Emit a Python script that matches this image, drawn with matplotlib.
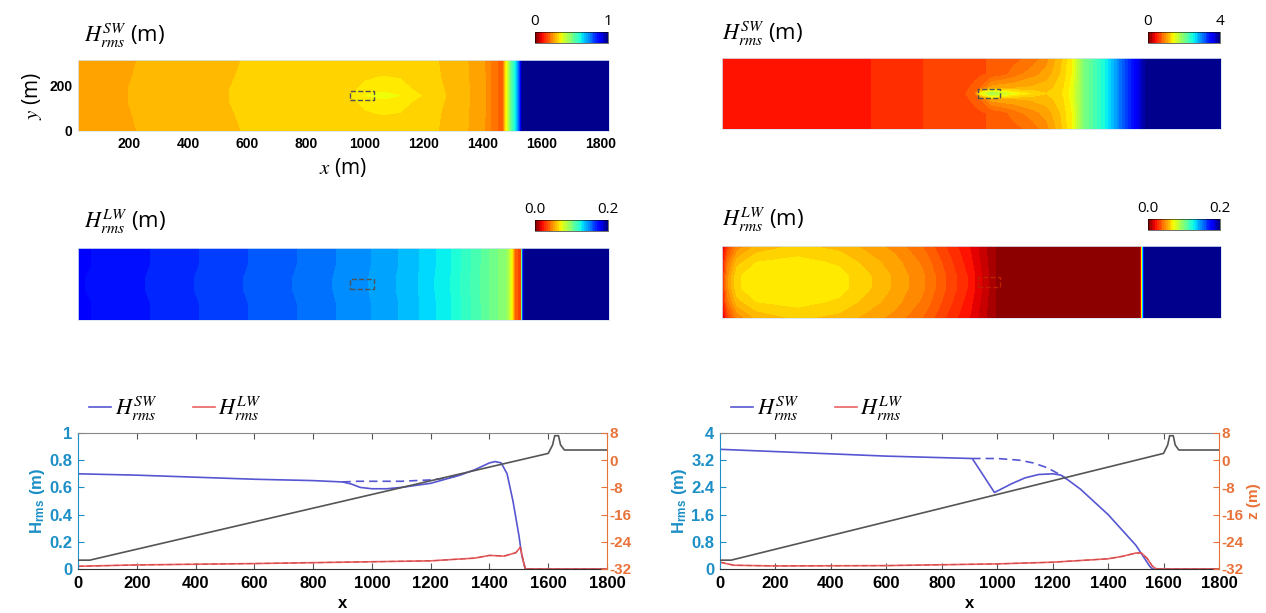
import numpy as np
import matplotlib
matplotlib.use("Agg")
import matplotlib.pyplot as plt
from matplotlib.patches import Rectangle

plt.rcParams['mathtext.fontset'] = 'custom'
plt.rcParams['mathtext.it'] = 'STIXGeneral:italic'
plt.rcParams['mathtext.rm'] = 'STIXGeneral'
plt.rcParams['mathtext.bf'] = 'Liberation Sans:bold'
plt.rcParams['axes.unicode_minus'] = False

# ---- map fields (rows: y = 0, 70, 130, 155, 180, 240, 310) ----
map_y = [0, 70, 130, 155, 180, 240, 310]

# top-left: short-wave Hrms, colour scale 0..1
tl_x = [25, 150, 300, 480, 680, 900, 950, 1000, 1060, 1120, 1200, 1300, 1400, 1440, 1470, 1480, 1494, 1510, 1524, 1535, 1830]
tl_edge = [0.262, 0.27, 0.28, 0.295, 0.305, 0.315, 0.318, 0.32, 0.322, 0.32, 0.31, 0.29, 0.26, 0.21, 0.18, 0.34, 0.50, 0.62, 0.78, 1.0, 1.0]
tl_off = [0.263, 0.271, 0.281, 0.296, 0.306, 0.316, 0.319, 0.322, 0.325, 0.323, 0.312, 0.291, 0.261, 0.21, 0.18, 0.34, 0.50, 0.62, 0.78, 1.0, 1.0]
tl_near = [0.264, 0.272, 0.282, 0.297, 0.307, 0.317, 0.321, 0.33, 0.337, 0.333, 0.318, 0.292, 0.261, 0.21, 0.18, 0.34, 0.50, 0.62, 0.78, 1.0, 1.0]
tl_cent = [0.264, 0.272, 0.282, 0.297, 0.307, 0.317, 0.325, 0.35, 0.37, 0.35, 0.322, 0.293, 0.261, 0.21, 0.18, 0.34, 0.50, 0.62, 0.78, 1.0, 1.0]

# top-right: short-wave Hrms, colour scale 0..4
tr_x = [25, 450, 680, 900, 940, 960, 1000, 1040, 1080, 1150, 1200, 1250, 1292, 1336, 1408, 1450, 1509, 1566, 1830]
tr_edge = [0.40, 0.44, 0.56, 0.68, 0.68, 0.68, 0.72, 0.72, 0.76, 0.84, 0.96, 1.16, 1.40, 2.0, 2.48, 2.88, 3.44, 4.0, 4.0]
tr_off = [0.40, 0.44, 0.56, 0.68, 0.68, 0.68, 0.72, 0.76, 0.84, 0.96, 1.04, 1.20, 1.40, 2.0, 2.48, 2.88, 3.44, 4.0, 4.0]
tr_near = [0.40, 0.44, 0.56, 0.68, 0.72, 0.80, 1.04, 1.08, 1.08, 1.12, 1.16, 1.24, 1.44, 2.0, 2.48, 2.88, 3.44, 4.0, 4.0]
tr_cent = [0.40, 0.44, 0.56, 0.68, 0.80, 1.40, 1.80, 1.60, 1.44, 1.28, 1.20, 1.28, 1.44, 2.0, 2.48, 2.88, 3.44, 4.0, 4.0]

# middle-left: long-wave Hrms, colour scale 0..0.2
ml_x = [25, 200, 400, 600, 800, 1000, 1150, 1285, 1380, 1450, 1485, 1500, 1512, 1530, 1540, 1830]
ml_edge = [0.176, 0.172, 0.166, 0.160, 0.154, 0.146, 0.138, 0.126, 0.112, 0.100, 0.094, 0.072, 0.040, 0.030, 0.2, 0.2]
ml_cent = [0.1755, 0.1715, 0.1655, 0.1595, 0.1535, 0.1455, 0.1375, 0.1255, 0.1115, 0.100, 0.094, 0.072, 0.040, 0.030, 0.2, 0.2]

# middle-right: long-wave Hrms, colour scale 0..0.2
mr_x = [25, 45, 80, 150, 300, 450, 550, 650, 750, 850, 920, 980, 1020, 1540, 1546, 1552, 1830]
mr_edge = [0.012, 0.030, 0.046, 0.056, 0.061, 0.058, 0.053, 0.048, 0.040, 0.028, 0.020, 0.010, 0.004, 0.004, 0.130, 0.2, 0.2]
mr_off = [0.018, 0.042, 0.058, 0.065, 0.067, 0.064, 0.058, 0.052, 0.044, 0.031, 0.022, 0.011, 0.004, 0.004, 0.130, 0.2, 0.2]
mr_cent = [0.022, 0.048, 0.064, 0.069, 0.070, 0.067, 0.061, 0.054, 0.046, 0.033, 0.024, 0.012, 0.004, 0.004, 0.130, 0.2, 0.2]

# ---- cross-shore profiles ----
bed_x = [0, 40, 1600, 1615, 1622, 1635, 1642, 1655, 1800]
bed_z = [-29.4, -29.4, 2.0, 4.5, 7.2, 7.2, 4.5, 3.0, 3.0]

l_sw_x = [0, 200, 400, 600, 800, 900, 930, 960, 1000, 1050, 1100, 1200, 1300, 1350, 1400, 1420, 1440, 1460, 1480, 1500, 1510, 1522, 1800]
l_sw = [0.70, 0.69, 0.675, 0.66, 0.65, 0.64, 0.625, 0.60, 0.59, 0.59, 0.60, 0.63, 0.69, 0.73, 0.78, 0.79, 0.78, 0.70, 0.50, 0.25, 0.10, 0.0, 0.0]
l_sw_d_x = [900, 950, 1100, 1200, 1260, 1300]
l_sw_d = [0.64, 0.645, 0.645, 0.655, 0.67, 0.69]
l_lw_x = [0, 200, 600, 900, 1200, 1350, 1400, 1450, 1490, 1505, 1515, 1522, 1800]
l_lw = [0.02, 0.03, 0.04, 0.05, 0.06, 0.08, 0.10, 0.095, 0.12, 0.16, 0.06, 0.0, 0.0]

r_sw_x = [0, 300, 600, 910, 950, 990, 1050, 1100, 1150, 1200, 1230, 1250, 1300, 1400, 1500, 1550, 1560, 1800]
r_sw = [3.52, 3.42, 3.32, 3.25, 2.75, 2.25, 2.50, 2.68, 2.78, 2.80, 2.76, 2.65, 2.35, 1.60, 0.70, 0.08, 0.0, 0.0]
r_sw_d_x = [910, 1000, 1080, 1130, 1180, 1230, 1250]
r_sw_d = [3.25, 3.25, 3.20, 3.12, 2.98, 2.76, 2.65]
r_lw_x = [0, 50, 200, 600, 1000, 1200, 1400, 1450, 1500, 1520, 1540, 1560, 1575, 1800]
r_lw = [0.20, 0.11, 0.09, 0.10, 0.15, 0.20, 0.30, 0.37, 0.47, 0.47, 0.32, 0.08, 0.0, 0.0]

struct_box = (950, 135, 80, 40)

W, H = 1266, 613
fig = plt.figure(figsize=(W / 100, H / 100), dpi=100)


def px(l, t, r, b):
    return [l / W, 1 - b / H, (r - l) / W, (b - t) / H]


def draw_map(rect, xs, rows, vmax, box_col, cb_rect, cb_labels, title_pos):
    ax = fig.add_axes(px(*rect))
    Z = np.array(rows)
    cf = ax.contourf(xs, map_y, Z, levels=np.linspace(0, vmax, 41), cmap='jet_r')
    bx, by, bw, bh = struct_box
    ax.add_patch(Rectangle((bx, by), bw, bh, fill=False, ec=box_col, ls='--', lw=1.0))
    ax.set_xlim(25, 1830)
    ax.set_ylim(0, 310)
    for s in ax.spines.values():
        s.set_color('#d8e4f0')
        s.set_linewidth(0.6)
    ax.tick_params(length=0)
    ax.set_xticks([])
    ax.set_yticks([])
    cax = fig.add_axes(px(*cb_rect))
    cb = fig.colorbar(cf, cax=cax, orientation='horizontal', ticks=[0, vmax])
    cb.set_ticklabels(cb_labels)
    cb.outline.set_linewidth(0.4)
    cax.xaxis.set_ticks_position('top')
    cax.tick_params(length=0, labelsize=11, pad=2)
    for t in cax.get_xticklabels():
        t.set_family('Open Sans')
    fig.text(title_pos[0] / W, 1 - title_pos[1] / H, title_pos[2], fontsize=16,
             family='Open Sans', va='center', ha='left')
    return ax


ax_tl = draw_map((78, 60, 609, 131), tl_x,
                 [tl_edge, tl_off, tl_near, tl_cent, tl_near, tl_off, tl_edge], 1.0,
                 '#505050', (535, 32, 608, 43), ['0', '1'],
                 (84, 36, r'$H_{rms}^{SW}$ (m)'))
ax_tl.set_xticks([200, 400, 600, 800, 1000, 1200, 1400, 1600, 1800])
ax_tl.set_yticks([0, 200])
ax_tl.tick_params(labelsize=10, pad=4)
for t in ax_tl.get_xticklabels() + ax_tl.get_yticklabels():
    t.set_fontweight('bold')
    t.set_family('Liberation Sans')
ax_tl.set_xlabel(r'$x$ (m)', fontsize=15, family='Open Sans', labelpad=4)
ax_tl.set_ylabel(r'$y$ (m)', fontsize=15, family='Open Sans', labelpad=4)

draw_map((722, 58, 1221, 129), tr_x,
         [tr_edge, tr_off, tr_near, tr_cent, tr_near, tr_off, tr_edge], 4.0,
         '#505050', (1148, 32, 1220, 43), ['0', '4'],
         (722, 34, r'$H_{rms}^{SW}$ (m)'))

draw_map((78, 248, 609, 320), ml_x,
         [ml_edge, ml_edge, ml_cent, ml_cent, ml_cent, ml_edge, ml_edge], 0.2,
         '#505050', (535, 220, 608, 231), ['0.0', '0.2'],
         (84, 222, r'$H_{rms}^{LW}$ (m)'))

draw_map((722, 246, 1221, 318), mr_x,
         [mr_edge, mr_off, mr_cent, mr_cent, mr_cent, mr_off, mr_edge], 0.2,
         '#c02000', (1148, 219, 1220, 230), ['0.0', '0.2'],
         (722, 220, r'$H_{rms}^{LW}$ (m)'))

# ---- line plots ----
C_SW = '#5656d2'
C_LW = '#ea6262'
C_BED = '#555555'
C_LEFT = '#1c8fc6'
C_RIGHT = '#e8733a'


def draw_profile(rect, sw_x, sw, swd_x, swd, lw_x, lw, hmax, hticks, hlabels, zlabel):
    ax = fig.add_axes(px(*rect))
    l1, = ax.plot(sw_x, sw, color=C_SW, lw=1.2)
    ax.plot(swd_x, swd, color=C_SW, lw=1.2, ls=(0, (5, 3)))
    l2, = ax.plot(lw_x, lw, color=C_LW, lw=1.2)
    ax.plot(lw_x, lw, color='#d04848', lw=0.8, ls=(0, (5, 3)))
    ax.set_xlim(0, 1800)
    ax.set_ylim(0, hmax)
    ax.set_xticks(range(0, 1801, 200))
    ax.set_yticks(hticks)
    ax.set_yticklabels(hlabels)
    ax.tick_params(axis='x', direction='in', top=True, length=4, labelsize=12, pad=5, color='#555555')
    ax.tick_params(axis='y', direction='in', length=4, labelsize=12, colors=C_LEFT, pad=4)
    for t in ax.get_xticklabels() + ax.get_yticklabels():
        t.set_fontweight('bold')
        t.set_family('Liberation Sans')
    ax.set_xlabel('x', fontsize=12, fontweight='bold', family='Liberation Sans', labelpad=4)
    ax.set_ylabel(r'H$_{\mathbf{rms}}$ (m)', fontsize=12, fontweight='bold',
                  family='Liberation Sans', color=C_LEFT, labelpad=2)
    ax.spines['left'].set_color(C_LEFT)
    ax.spines['top'].set_color('#888888')
    ax.spines['bottom'].set_color('#333333')
    ax.spines['right'].set_visible(False)

    ax2 = ax.twinx()
    ax2.plot(bed_x, bed_z, color=C_BED, lw=1.2)
    ax2.set_ylim(-32, 8)
    ax2.set_yticks([-32, -24, -16, -8, 0, 8])
    ax2.tick_params(axis='y', direction='in', length=4, labelsize=11, colors=C_RIGHT, pad=2)
    for t in ax2.get_yticklabels():
        t.set_fontweight('bold')
        t.set_family('Liberation Sans')
    for s in ['left', 'top', 'bottom']:
        ax2.spines[s].set_visible(False)
    ax2.spines['right'].set_color(C_RIGHT)
    if zlabel:
        ax2.set_ylabel('z (m)', fontsize=11, fontweight='bold', family='Liberation Sans',
                       color=C_RIGHT, labelpad=2)

    ax.legend([l1, l2], [r'$H_{rms}^{SW}$', r'$H_{rms}^{LW}$'], loc='lower left',
              bbox_to_anchor=(0.0, 0.99), ncol=2, frameon=False, fontsize=16,
              handlelength=1.0, handletextpad=0.15, columnspacing=1.6, borderaxespad=0.1)
    return ax


draw_profile((78, 433, 607, 569), l_sw_x, l_sw, l_sw_d_x, l_sw_d, l_lw_x, l_lw,
             1.0, [0, 0.2, 0.4, 0.6, 0.8, 1.0], ['0', '0.2', '0.4', '0.6', '0.8', '1'], False)
draw_profile((720, 433, 1219, 569), r_sw_x, r_sw, r_sw_d_x, r_sw_d, r_lw_x, r_lw,
             4.0, [0, 0.8, 1.6, 2.4, 3.2, 4.0], ['0', '0.8', '1.6', '2.4', '3.2', '4'], True)

fig.savefig('out.png', dpi=100)
